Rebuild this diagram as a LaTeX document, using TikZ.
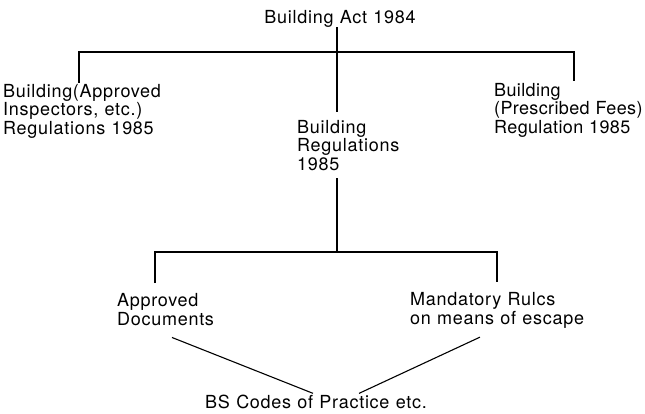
\documentclass[tikz,border=0pt]{standalone}
\usepackage{fontspec}
\setmainfont{TeX Gyre Heros}[LetterSpace=4,WordSpace=1.1]
\begin{document}
\begin{tikzpicture}[x=1pt,y=-1pt,
  lbl/.style={inner sep=0pt,align=left,font=\fontsize{18}{18.5}\selectfont},
  conn/.style={line width=1.1pt,black}]
\useasboundingbox (0,0) rectangle (645,413);
% nodes (multi-line nodes anchored at the baseline of their last line)
\node[lbl,anchor=base] (act) at (340,23) {Building Act 1984};
\node[lbl,anchor=base west] (left) at (3,134) {Building(Approved\\Inspectors, etc.)\\Regulations 1985};
\node[lbl,anchor=base west,font=\fontsize{18}{18.5}\selectfont\addfontfeatures{LetterSpace=2}] (right) at (494,133) {Building\\(Prescribed Fees)\\Regulation 1985};
\node[lbl,anchor=base west] (mid) at (297,170) {Building\\Regulations\\1985};
\node[lbl,anchor=base west] (appr) at (117,325) {Approved\\Documents};
\node[lbl,anchor=base west] (mand) at (410,324) {Mandatory Rulcs\\on means of escape};
\node[lbl,anchor=base] (bs) at (316,408) {BS Codes of Practice etc.};
% junctions
\coordinate (t1) at (337,52);
\coordinate (t1l) at (79,52);
\coordinate (t1r) at (574,52);
\coordinate (t2) at (337,252);
\coordinate (t2l) at (155,252);
\coordinate (t2r) at (497,252);
% connectors (yshift is in canvas units: positive = up)
\draw[conn] (act.south -| t1) -- (t1);
\draw[conn] (t1) -- ([yshift=8pt]t1 |- mid.north);
\draw[conn] ([yshift=-8pt]t2 |- mid.south) -- (t2);
\draw[conn] ([yshift=1pt]t1l |- left.north) -- (t1l) -- (t1r) -- ([yshift=2pt]t1r |- right.north);
\draw[conn] ([yshift=10pt]t2l |- appr.north) -- (t2l) -- (t2r) -- ([yshift=10pt]t2r |- mand.north);
\draw[conn] ([shift={(55,12)}]appr.south west) -- ([shift={(108,-1)}]bs.north west);
\draw[conn] ([shift={(70,9)}]mand.south west) -- ([shift={(154,-1)}]bs.north west);
\end{tikzpicture}
\end{document}
